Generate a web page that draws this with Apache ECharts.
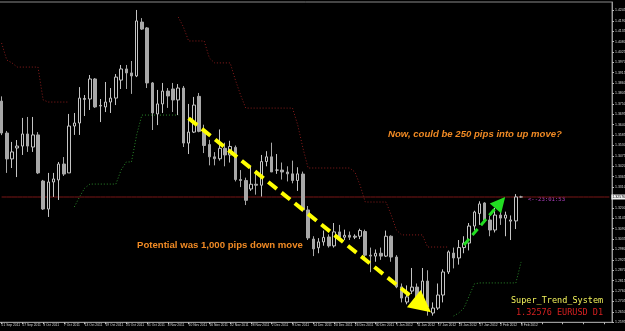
<!DOCTYPE html>
<html><head><meta charset="utf-8">
<script src="https://cdn.jsdelivr.net/npm/echarts/dist/echarts.min.js"></script>
<style>html,body{margin:0;padding:0;background:#000;overflow:hidden}#c{width:625px;height:331px}</style>
</head><body><div id="c"></div>
<script>
// ---- data (EURUSD D1) ----
const dates = ['21 Sep 2011','22 Sep 2011','23 Sep 2011','26 Sep 2011','27 Sep 2011','28 Sep 2011','29 Sep 2011','30 Sep 2011',
'3 Oct 2011','4 Oct 2011','5 Oct 2011','6 Oct 2011','7 Oct 2011','10 Oct 2011','11 Oct 2011','12 Oct 2011','13 Oct 2011','14 Oct 2011','17 Oct 2011','18 Oct 2011','19 Oct 2011','20 Oct 2011','21 Oct 2011','24 Oct 2011','25 Oct 2011','26 Oct 2011','27 Oct 2011','28 Oct 2011','31 Oct 2011',
'1 Nov 2011','2 Nov 2011','3 Nov 2011','4 Nov 2011','7 Nov 2011','8 Nov 2011','9 Nov 2011','10 Nov 2011','11 Nov 2011','14 Nov 2011','15 Nov 2011','16 Nov 2011','17 Nov 2011','18 Nov 2011','21 Nov 2011','22 Nov 2011','23 Nov 2011','24 Nov 2011','25 Nov 2011','28 Nov 2011','29 Nov 2011','30 Nov 2011',
'1 Dec 2011','2 Dec 2011','5 Dec 2011','6 Dec 2011','7 Dec 2011','8 Dec 2011','9 Dec 2011','12 Dec 2011','13 Dec 2011','14 Dec 2011','15 Dec 2011','16 Dec 2011','19 Dec 2011','20 Dec 2011','21 Dec 2011','22 Dec 2011','23 Dec 2011','26 Dec 2011','27 Dec 2011','28 Dec 2011','29 Dec 2011','30 Dec 2011',
'2 Jan 2012','3 Jan 2012','4 Jan 2012','5 Jan 2012','6 Jan 2012','9 Jan 2012','10 Jan 2012','11 Jan 2012','12 Jan 2012','13 Jan 2012','16 Jan 2012','17 Jan 2012','18 Jan 2012','19 Jan 2012','20 Jan 2012','23 Jan 2012','24 Jan 2012','25 Jan 2012','26 Jan 2012','27 Jan 2012','30 Jan 2012','31 Jan 2012',
'1 Feb 2012','2 Feb 2012','3 Feb 2012','6 Feb 2012','7 Feb 2012','8 Feb 2012'];
const opens = [1.3765,1.3596,1.3459,1.3517,1.3527,1.3591,1.3522,1.3586,1.3342,1.3194,1.3337,1.3348,1.3432,1.3385,1.3633,1.3649,1.3774,1.3776,1.3882,1.3739,1.3734,1.3760,1.3781,1.3876,1.3935,1.3914,1.3898,1.4183,1.4152,1.3861,1.3697,1.3750,1.3818,1.3829,1.3771,1.3834,1.3543,1.3601,1.3790,1.3605,1.3535,1.3470,1.3460,1.3515,1.3480,1.3520,1.3350,1.3345,1.3300,1.3325,1.3320,1.3445,1.3470,1.3400,1.3400,1.3390,1.3380,1.3345,1.3379,1.3189,1.3035,1.2989,1.3020,1.3046,1.2999,1.3073,1.3045,1.3055,1.3045,1.3050,1.3075,1.2950,1.2945,1.2960,1.2945,1.3050,1.2940,1.2782,1.2702,1.2760,1.2781,1.2723,1.2813,1.2644,1.2670,1.2739,1.2861,1.2961,1.2935,1.2990,1.3014,1.3104,1.3170,1.3226,1.3136,1.3083,1.3162,1.3146,1.3130,1.3131,1.3258];
const highs = [1.3790,1.3607,1.3549,1.3559,1.3676,1.3681,1.3681,1.3601,1.3348,1.3385,1.3385,1.3443,1.3469,1.3697,1.3702,1.3839,1.3797,1.3903,1.3887,1.3776,1.3866,1.3834,1.3908,1.3956,1.3956,1.3977,1.4247,1.4204,1.4157,1.3866,1.3824,1.3861,1.3834,1.3861,1.3855,1.3845,1.3750,1.3787,1.3808,1.3640,1.3560,1.3495,1.3615,1.3545,1.3555,1.3530,1.3400,1.3360,1.3420,1.3395,1.3480,1.3500,1.3545,1.3485,1.3440,1.3420,1.3450,1.3415,1.3392,1.3210,1.3050,1.3040,1.3080,1.3060,1.3120,1.3110,1.3085,1.3075,1.3060,1.3090,1.3085,1.2990,1.2980,1.2990,1.3080,1.3055,1.2950,1.2800,1.2790,1.2882,1.2800,1.2882,1.2870,1.2700,1.2800,1.2875,1.2975,1.2990,1.3030,1.3050,1.3120,1.3185,1.3235,1.3230,1.3160,1.3200,1.3195,1.3180,1.3160,1.3273,1.3264];
const lows = [1.3585,1.3385,1.3411,1.3363,1.3480,1.3496,1.3496,1.3379,1.3189,1.3152,1.3258,1.3242,1.3369,1.3385,1.3586,1.3586,1.3686,1.3718,1.3729,1.3654,1.3707,1.3702,1.3744,1.3829,1.3829,1.3803,1.3892,1.4141,1.3834,1.3612,1.3638,1.3702,1.3729,1.3707,1.3691,1.3522,1.3485,1.3596,1.3600,1.3490,1.3425,1.3425,1.3450,1.3420,1.3440,1.3340,1.3310,1.3215,1.3290,1.3270,1.3260,1.3420,1.3390,1.3380,1.3350,1.3340,1.3330,1.3290,1.3180,1.3030,1.2945,1.2960,1.3000,1.2990,1.2990,1.3030,1.3030,1.3030,1.3035,1.3035,1.2940,1.2860,1.2915,1.2925,1.2940,1.2915,1.2775,1.2700,1.2690,1.2745,1.2700,1.2710,1.2630,1.2630,1.2660,1.2700,1.2850,1.2880,1.2900,1.2960,1.2975,1.3080,1.3110,1.3120,1.3050,1.3070,1.3110,1.3050,1.3030,1.3088,1.3254];
const closes = [1.3596,1.3459,1.3496,1.3527,1.3591,1.3527,1.3586,1.3385,1.3194,1.3337,1.3353,1.3432,1.3379,1.3633,1.3649,1.3781,1.3779,1.3882,1.3734,1.3742,1.3760,1.3781,1.3892,1.3935,1.3914,1.3898,1.4189,1.4146,1.3861,1.3702,1.3750,1.3818,1.3792,1.3771,1.3834,1.3543,1.3601,1.3744,1.3605,1.3530,1.3470,1.3460,1.3515,1.3480,1.3525,1.3350,1.3345,1.3240,1.3325,1.3320,1.3445,1.3470,1.3390,1.3400,1.3390,1.3380,1.3345,1.3380,1.3189,1.3041,1.2983,1.3020,1.3044,1.2999,1.3073,1.3045,1.3055,1.3045,1.3050,1.3080,1.2950,1.2945,1.2960,1.2945,1.3050,1.2940,1.2782,1.2723,1.2729,1.2781,1.2723,1.2813,1.2676,1.2670,1.2739,1.2861,1.2967,1.2935,1.2990,1.3014,1.3104,1.3178,1.3221,1.3136,1.3083,1.3162,1.3146,1.3162,1.3136,1.3258,1.32576];
// Super Trend lines (null = not drawn)
const N = null;
const trendDown = [1.4072,1.3982,1.3967,1.3945,1.3945,1.3945,1.3945,1.3945,1.3771,1.3760,1.3760,1.3760,1.3760,1.3760,
 N,N,N,N,N,N,N,N,N,N,N,N,N,N,N,N,N,N,N,N,
 1.4210,1.4157,1.4083,1.4083,1.4083,1.4083,1.3993,1.3967,1.3967,1.3967,1.3967,1.3877,1.3797,1.3728,1.3728,1.3728,1.3728,1.3728,1.3728,1.3728,1.3728,1.3728,1.3728,1.3639,1.3517,1.3411,1.3411,1.3411,1.3411,1.3411,1.3411,1.3411,1.3411,1.3411,1.3390,1.3321,1.3231,1.3231,1.3231,1.3231,1.3231,1.3162,1.3083,1.3057,1.3057,1.3057,1.3057,1.3057,1.2993,1.2993,1.2993,1.2993,1.2993,
 N,N,N,N,N,N,N,N,N,N,N,N,N];
const trendUp = [N,N,N,N,N,N,N,N,N,N,N,N,N,N,
 1.3205,1.3258,1.3305,1.3326,1.3326,1.3326,1.3326,1.3326,1.3326,1.3400,1.3443,1.3443,1.3586,1.3691,1.3691,1.3691,1.3691,1.3691,1.3691,1.3691,1.3691,
 N,N,N,N,N,N,N,N,N,N,N,N,N,N,N,N,N,N,N,N,N,N,N,N,N,N,N,N,N,N,N,N,N,N,N,N,N,N,N,N,N,N,N,N,N,N,N,N,N,N,N,N,
 1.2628,1.2644,1.2670,1.2734,1.2798,1.2803,1.2803,1.2803,1.2803,1.2803,1.2803,1.2803,1.2803,1.2914];
const bid = 1.32576;
const priceStep = 0.0055;
const priceMin = 1.2595, priceMax = 1.42892;
const emptySlots = 17;
// annotation anchors [bar index, price]
const downArrow = [[36, 1.3674], [81, 1.2684]];
const upArrow = [[89, 1.3004], [96, 1.3228]];

const cats = dates.concat(Array.from({length: emptySlots}, (_, i) => '#' + i));
const pad = a => a.concat(Array(cats.length - a.length).fill(null));
const candles = opens.map((o, i) => [o, closes[i], lows[i], highs[i]]);
const bidLine = cats.map(() => bid);

function arrowSeries(pts, color, width, dash, head) {
  return {type: 'line', data: [], z: 6, silent: true,
    markLine: {silent: true, animation: false, symbol: ['none', 'triangle'], symbolSize: head,
      lineStyle: {color: color, width: width, type: dash, opacity: 1}, label: {show: false},
      itemStyle: {color: color},
      emphasis: {disabled: true},
      data: [[{coord: pts[0], symbol: 'none'}, {coord: pts[1], symbol: 'triangle', symbolSize: head}]]}};
}

const chart = echarts.init(document.getElementById('c'), null, {renderer: 'canvas'});
chart.setOption({
  backgroundColor: '#000',
  animation: false,
  grid: {left: -1, right: 13, top: 2, bottom: 8.75, outerBoundsMode: 'none', containLabel: false,
    show: true, borderColor: '#8a8a8a', borderWidth: 1},
  xAxis: {
    type: 'category', data: cats, boundaryGap: true,
    axisLine: {show: true, lineStyle: {color: '#9a9a9a', width: 1}},
    axisTick: {show: true, interval: 3, alignWithLabel: true, length: 2, lineStyle: {color: '#bbb'}},
    axisLabel: {interval: 3, color: '#d8d8d8', fontSize: 3.3, fontFamily: 'Liberation Sans', align: 'left', margin: 1.5,
      formatter: v => v.charAt(0) === '#' ? '' : v},
    splitLine: {show: false}
  },
  yAxis: {
    type: 'value', position: 'right', min: priceMin, max: priceMax, interval: priceStep, scale: true,
    axisLine: {show: true, lineStyle: {color: '#9a9a9a'}},
    axisTick: {show: true, length: 2, lineStyle: {color: '#bbb'}},
    axisLabel: {color: '#d8d8d8', fontSize: 3.5, fontFamily: 'Liberation Sans', margin: 3, showMaxLabel: false,
      formatter: v => v.toFixed(5)},
    splitLine: {show: false}
  },
  series: [
    {type: 'line', data: pad(trendDown), symbol: 'none', connectNulls: false, silent: true,
      lineStyle: {color: '#8c1c1c', width: 1, type: [1, 2]}, z: 1},
    {type: 'line', data: pad(trendUp), symbol: 'none', connectNulls: false, silent: true,
      lineStyle: {color: '#2a8a2a', width: 1, type: [1, 2]}, z: 1},
    {type: 'line', data: bidLine, symbol: 'none', silent: true, z: 2,
      lineStyle: {color: '#7a1616', width: 1, type: 'solid'},
      endLabel: {show: true, distance: 2, formatter: bid.toFixed(5), color: '#000', backgroundColor: '#f0f0f0',
        fontSize: 3.5, padding: [0.5, 1], fontFamily: 'Liberation Sans'}},
    {type: 'candlestick', data: candles, barWidth: 3, z: 3,
      itemStyle: {color: '#000', color0: '#a8a8a8', borderColor: '#c4c4c4', borderColor0: '#a8a8a8', borderWidth: 1}},
    arrowSeries(downArrow, '#ffff00', 4, [11, 6], 22),
    arrowSeries(upArrow, '#22dd22', 3, [8, 5], 15)
  ],
  graphic: [
    {type: 'text', left: 388, top: 129, style: {text: 'Now, could be 250 pips into up move?', fill: '#f08a24',
      font: 'italic bold 9.6px "Liberation Sans", Arial, sans-serif'}},
    {type: 'text', left: 137, top: 240, style: {text: 'Potential was 1,000 pips down move', fill: '#f08a24',
      font: 'bold 9.6px "Liberation Sans", Arial, sans-serif'}},
    {type: 'text', left: 511, top: 296, style: {text: 'Super_Trend_System', fill: '#f2f25a',
      font: '8.5px "DejaVu Sans Mono", monospace'}},
    {type: 'text', left: 516, top: 308.5, style: {text: bid.toFixed(5) + ' EURUSD D1', fill: '#d42020',
      font: '8.5px "DejaVu Sans Mono", monospace'}},
    {type: 'text', left: 528, top: 197, style: {text: '<--23:01:53', fill: '#b040c0',
      font: '5.6px "DejaVu Sans Mono", monospace'}}
  ]
});
</script></body></html>
